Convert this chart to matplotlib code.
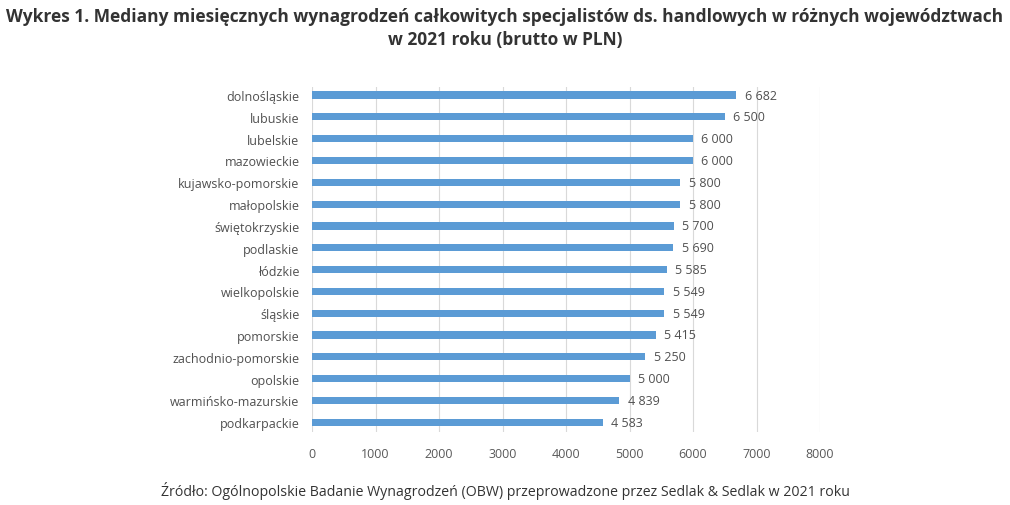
import matplotlib
matplotlib.use("Agg")
import matplotlib.pyplot as plt

regions = ["dolnośląskie", "lubuskie", "lubelskie", "mazowieckie", "kujawsko-pomorskie",
           "małopolskie", "świętokrzyskie", "podlaskie", "łódzkie", "wielkopolskie",
           "śląskie", "pomorskie", "zachodnio-pomorskie", "opolskie", "warmińsko-mazurskie",
           "podkarpackie"]
values = [6682, 6500, 6000, 6000, 5800, 5800, 5700, 5690, 5585, 5549, 5549, 5415, 5250,
          5000, 4839, 4583]
xticks = [0, 1000, 2000, 3000, 4000, 5000, 6000, 7000, 8000]

fig = plt.figure(figsize=(10.10, 5.06), dpi=100)
ax = fig.add_axes([312/1010, 1-433/506, 508/1010, 345/506])

ypos = list(range(len(regions)))
ax.barh(ypos, values, height=0.33, color="#5B9BD5", zorder=3)
for y, v in zip(ypos, values):
    ax.text(v + 130, y, f"{v:,}".replace(",", " "), va="center", ha="left",
            fontsize=9, color="#505050", family="Open Sans")

ax.set_xlim(0, 8000)
ax.set_ylim(15.45, -0.37)
ax.set_xticks(xticks)
ax.set_xticklabels([str(t) for t in xticks], fontsize=9, color="#595959", family="Open Sans")
ax.set_yticks(ypos)
ax.set_yticklabels(regions, fontsize=9, color="#505050", family="Open Sans")
ax.tick_params(axis="both", length=0)
ax.tick_params(axis="x", pad=11)
ax.tick_params(axis="y", pad=9)
ax.grid(axis="x", color="#D9D9D9", linewidth=0.8, zorder=0)
for s in ax.spines.values():
    s.set_visible(False)

fig.text(0.5, 1-17/506, "Wykres 1. Mediany miesięcznych wynagrodzeń całkowitych specjalistów ds. handlowych w różnych województwach",
         ha="center", va="center", fontsize=12.5, fontweight="bold", color="#333333", family="Open Sans")
fig.text(0.5, 1-40/506, "w 2021 roku (brutto w PLN)",
         ha="center", va="center", fontsize=12.5, fontweight="bold", color="#333333", family="Open Sans")
fig.text(505/1010, 1-491/506, "Źródło: Ogólnopolskie Badanie Wynagrodzeń (OBW) przeprowadzone przez Sedlak & Sedlak w 2021 roku",
         ha="center", va="center", fontsize=10.2, color="#333333", family="Open Sans")

fig.savefig("out.png", dpi=100)
